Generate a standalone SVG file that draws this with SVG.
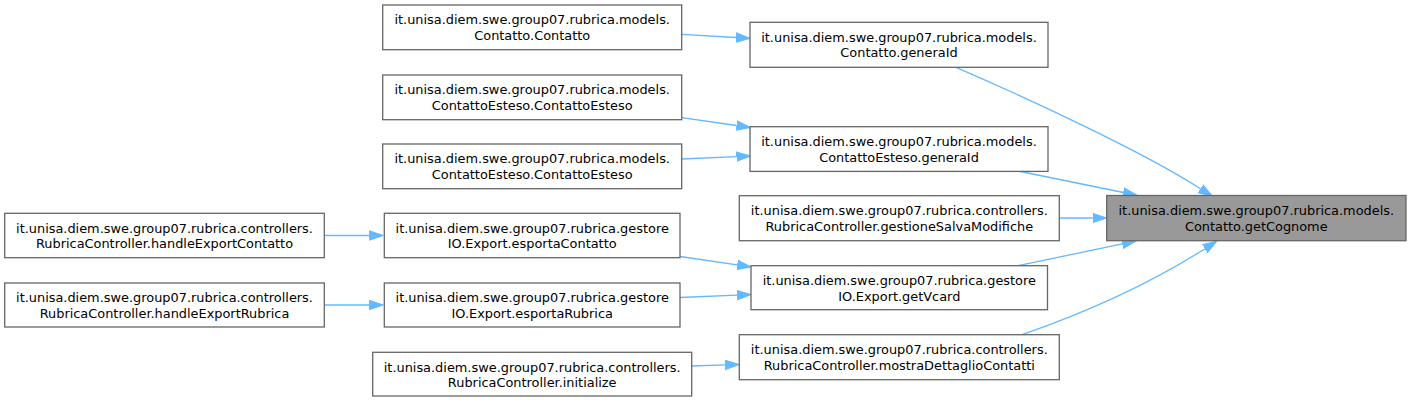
<svg xmlns="http://www.w3.org/2000/svg" width="1411" height="402" viewBox="0 0 1411 402">
<defs>
<style>
.box{fill:#ffffff;stroke:#666666;stroke-width:1.3}
.focus{fill:#999999;stroke:#666666;stroke-width:1.3}
.lbl{font-family:"DejaVu Sans","Liberation Sans",sans-serif;font-size:12.9px;fill:#000000;text-anchor:middle}
.edge{fill:none;stroke:#63b8ff;stroke-width:1.3}
</style>
<marker id="arr" markerUnits="userSpaceOnUse" markerWidth="16" markerHeight="12" viewBox="0 -6 16 12" refX="0" refY="0" orient="auto">
<path d="M0,-4.7 L14,0 L0,4.7 z" fill="#63b8ff" stroke="#63b8ff" stroke-width="1"/>
</marker>
</defs>
<rect width="1411" height="402" fill="#ffffff"/>
<g id="connectors">
<path class="edge" marker-end="url(#arr)" d="M681.7,34.3 L736,37.5"/>
<path class="edge" marker-end="url(#arr)" d="M681.7,117.7 L736.6,125.5"/>
<path class="edge" marker-end="url(#arr)" d="M681.7,159 L736.5,156.6"/>
<path class="edge" marker-end="url(#arr)" d="M324.3,235.5 L369.3,235.5"/>
<path class="edge" marker-end="url(#arr)" d="M324.3,305 L369.3,305"/>
<path class="edge" marker-end="url(#arr)" d="M680,256.5 L737.2,264.9"/>
<path class="edge" marker-end="url(#arr)" d="M680,297.5 L737,295.1"/>
<path class="edge" marker-end="url(#arr)" d="M691.7,366 L725.3,364.9"/>
<path class="edge" marker-end="url(#arr)" d="M1059.3,218 L1092.7,218"/>
<path class="edge" marker-end="url(#arr)" d="M1018,171 L1123.3,192.5"/>
<path class="edge" marker-end="url(#arr)" d="M1018,265.7 L1122.3,243.9"/>
<path class="edge" marker-end="url(#arr)" d="M956,67.3 C1020,95 1140,150 1200.5,188.7"/>
<path class="edge" marker-end="url(#arr)" d="M1022,334.7 C1070,318 1140,290 1205,248.7"/>
</g>
<g id="n_contatto_contatto">
<rect class="box" x="382.7" y="5" width="299" height="44.7"/>
<text class="lbl" x="532.2" y="24.3">it.unisa.diem.swe.group07.rubrica.models.</text>
<text class="lbl" x="532.2" y="39.8">Contatto.Contatto</text>
</g>
<g id="n_contatto_generaid">
<rect class="box" x="750" y="22.3" width="298" height="45"/>
<text class="lbl" x="899" y="41.6">it.unisa.diem.swe.group07.rubrica.models.</text>
<text class="lbl" x="899" y="57.1">Contatto.generaId</text>
</g>
<g id="n_contattoesteso_1">
<rect class="box" x="382.7" y="75" width="299" height="44.7"/>
<text class="lbl" x="532.2" y="94.3">it.unisa.diem.swe.group07.rubrica.models.</text>
<text class="lbl" x="532.2" y="109.8">ContattoEsteso.ContattoEsteso</text>
</g>
<g id="n_contattoesteso_generaid">
<rect class="box" x="750" y="126.7" width="298" height="44.7"/>
<text class="lbl" x="899" y="146">it.unisa.diem.swe.group07.rubrica.models.</text>
<text class="lbl" x="899" y="161.5">ContattoEsteso.generaId</text>
</g>
<g id="n_contattoesteso_2">
<rect class="box" x="382.7" y="144" width="299" height="44.7"/>
<text class="lbl" x="532.2" y="163.3">it.unisa.diem.swe.group07.rubrica.models.</text>
<text class="lbl" x="532.2" y="178.8">ContattoEsteso.ContattoEsteso</text>
</g>
<g id="n_gestionesalvamodifiche">
<rect class="box" x="739.3" y="195.7" width="320" height="45"/>
<text class="lbl" x="899.3" y="215">it.unisa.diem.swe.group07.rubrica.controllers.</text>
<text class="lbl" x="899.3" y="230.5">RubricaController.gestioneSalvaModifiche</text>
</g>
<g id="n_getcognome">
<rect class="focus" x="1106.7" y="195.5" width="299.3" height="45.2"/>
<text class="lbl" x="1256.3" y="215">it.unisa.diem.swe.group07.rubrica.models.</text>
<text class="lbl" x="1256.3" y="230.5">Contatto.getCognome</text>
</g>
<g id="n_handleexportcontatto">
<rect class="box" x="4.7" y="213.3" width="319.6" height="44.4"/>
<text class="lbl" x="164.5" y="232.6">it.unisa.diem.swe.group07.rubrica.controllers.</text>
<text class="lbl" x="164.5" y="248.1">RubricaController.handleExportContatto</text>
</g>
<g id="n_esportacontatto">
<rect class="box" x="384.3" y="213.3" width="295.7" height="44.4"/>
<text class="lbl" x="532.2" y="232.6">it.unisa.diem.swe.group07.rubrica.gestore</text>
<text class="lbl" x="532.2" y="248.1">IO.Export.esportaContatto</text>
</g>
<g id="n_getvcard">
<rect class="box" x="751" y="265.7" width="296.5" height="44"/>
<text class="lbl" x="899.3" y="285">it.unisa.diem.swe.group07.rubrica.gestore</text>
<text class="lbl" x="899.3" y="300.5">IO.Export.getVcard</text>
</g>
<g id="n_handleexportrubrica">
<rect class="box" x="4.7" y="283" width="319.6" height="44"/>
<text class="lbl" x="164.5" y="302.3">it.unisa.diem.swe.group07.rubrica.controllers.</text>
<text class="lbl" x="164.5" y="317.8">RubricaController.handleExportRubrica</text>
</g>
<g id="n_esportarubrica">
<rect class="box" x="384.3" y="283" width="295.7" height="44"/>
<text class="lbl" x="532.2" y="302.3">it.unisa.diem.swe.group07.rubrica.gestore</text>
<text class="lbl" x="532.2" y="317.8">IO.Export.esportaRubrica</text>
</g>
<g id="n_mostradettagliocontatti">
<rect class="box" x="739.3" y="334.7" width="320" height="45"/>
<text class="lbl" x="899.3" y="354">it.unisa.diem.swe.group07.rubrica.controllers.</text>
<text class="lbl" x="899.3" y="369.5">RubricaController.mostraDettaglioContatti</text>
</g>
<g id="n_initialize">
<rect class="box" x="372.7" y="352.3" width="319" height="43.7"/>
<text class="lbl" x="532.2" y="371.6">it.unisa.diem.swe.group07.rubrica.controllers.</text>
<text class="lbl" x="532.2" y="387.1">RubricaController.initialize</text>
</g>
</svg>
